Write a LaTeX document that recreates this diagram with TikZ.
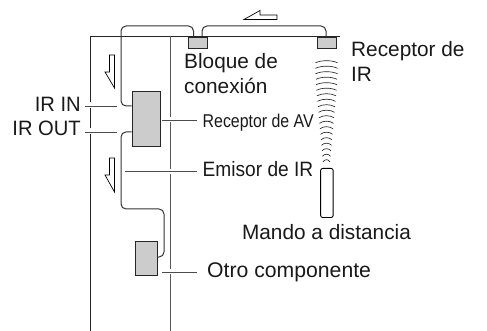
\documentclass[tikz,border=0pt]{standalone}
\usepackage{fontspec}
\setmainfont{Liberation Sans}
\tikzset{
 x=1pt,y=-1pt,
 wall/.style={line width=0.9pt,black!85},
 wallg/.style={line width=1pt,black!65},
 cable/.style={line width=1pt,black!80,rounded corners=5pt},
 blockbox/.style={draw=black!85,line width=0.9pt,fill=black!20,inner sep=0pt,anchor=north west},
 lead/.style={line width=0.6pt,black!70},
 hollow/.style={draw=black,line width=0.7pt,fill=white,line join=miter},
 lbl/.style={font=\fontsize{20.8}{25}\selectfont,inner sep=0pt,text=black!90},
 wave/.style={line width=0.65pt,black!85}
}
\begin{document}
\begin{tikzpicture}
\useasboundingbox (0,0) rectangle (487,331);
% walls
\coordinate (wtl) at (90,36); \coordinate (wtr) at (340,36);
\coordinate (wbl) at (90,331); \coordinate (itop) at (170,36); \coordinate (ibot) at (170,331);
\draw[wall] (wbl) -- (wtl) -- (wtr);
\draw[wallg] (itop) -- (ibot);
% blocks
\node[blockbox,minimum width=19pt,minimum height=11pt] (bc) at (188,37) {};
\node[blockbox,minimum width=19pt,minimum height=11pt] (rc) at (317,37) {};
\node[blockbox,minimum width=28pt,minimum height=55pt] (av) at (131.5,91) {};
\node[blockbox,minimum width=22pt,minimum height=34pt] (oc) at (134.5,241) {};
% cables
\coordinate (c1a) at (193.5,36); \coordinate (c2a) at (202,36); \coordinate (c2b) at (326,36);
\draw[cable] (av.west |- 0,106) -| (121,26) -| (c1a);
\draw[cable] (c2a) |- (326,26) -- (c2b);
\draw[cable] (av.west |- 0,132) -| (121,209) -| (164,257) -- (oc.east |- 0,257);
% hollow arrows
\draw[hollow] (114.5,55) -- (109.5,55) -- (109.5,72) -- (105,72) -- (114.5,88) -- cycle;
\draw[hollow] (114.5,158) -- (109.5,158) -- (109.5,175) -- (105,175) -- (114.5,192) -- cycle;
\draw[hollow] (277,15) -- (277,19.5) -- (244,19.5) -- (260,10.5) -- (260,15) -- cycle;
% leaders
\node[lbl,anchor=base east,xscale=.97] (irin) at (81,112) {IR IN};
\node[lbl,anchor=base east,xscale=.97] (irout) at (81,136) {IR OUT};
\node[lbl,anchor=base west,font=\fontsize{18.5}{22}\selectfont,xscale=.86] (rav) at (202.5,128) {Receptor de AV};
\node[lbl,anchor=base west,xscale=.92] (emi) at (202.5,177) {Emisor de IR};
\node[lbl,anchor=base west,font=\fontsize{21.2}{25}\selectfont] (otro) at (207,277) {Otro componente};
\coordinate (irinl) at (85,106.5); \coordinate (iroutl) at (85,132);
\coordinate (ravl) at (162,120); \coordinate (ravr) at (197,120);
\coordinate (emil) at (125,171.5); \coordinate (emir) at (197,171.5);
\coordinate (otl) at (162,272); \coordinate (otr) at (197,272);
\fill[white] (88,102) rectangle (92,108);
\fill[white] (88,128) rectangle (92,134);
\draw[lead] (irinl) -- (117,106.5);
\draw[lead] (iroutl) -- (117,132);
\fill[white] (168,117) rectangle (172,122);
\draw[lead] (ravl) -- (ravr);
\fill[white] (168,169) rectangle (172,174);
\draw[lead] (emil) -- (emir);
\fill[white] (168,269) rectangle (172,274);
\draw[lead] (otl) -- (otr);
% labels
\node[lbl,anchor=base west] (bl) at (184,69) {Bloque de};
\node[lbl,anchor=base west] (bl2) at (184,94) {conexión};
\node[lbl,anchor=base west] (rl) at (351,57) {Receptor de};
\node[lbl,anchor=base west] (rl2) at (351,82) {IR};
\node[lbl,anchor=base] (ml) at (326.5,240) {Mando a distancia};
% waves
\foreach \yy/\w in {61/11,66.5/11,72/11,77.5/10.5,83/10.5,88.5/10,94/9.5,99.5/9,105/8.5,110.5/8,116/7.5,121.5/7,127/6.5,132.5/6,138/5.5,143.5/5,149/4.5,154.5/4,160/3.5}{
  \draw[wave] (326.5-\w,\yy+1.8) .. controls (326.5-\w/2,\yy-1) and (326.5+\w/2,\yy-1) .. (326.5+\w,\yy+1.8);
}
% remote
\node[draw=black,line width=0.9pt,rounded corners=2pt,minimum width=12.5pt,minimum height=49pt,inner sep=0pt,fill=white,anchor=north west] (md) at (320.2,168) {};
\end{tikzpicture}
\end{document}
